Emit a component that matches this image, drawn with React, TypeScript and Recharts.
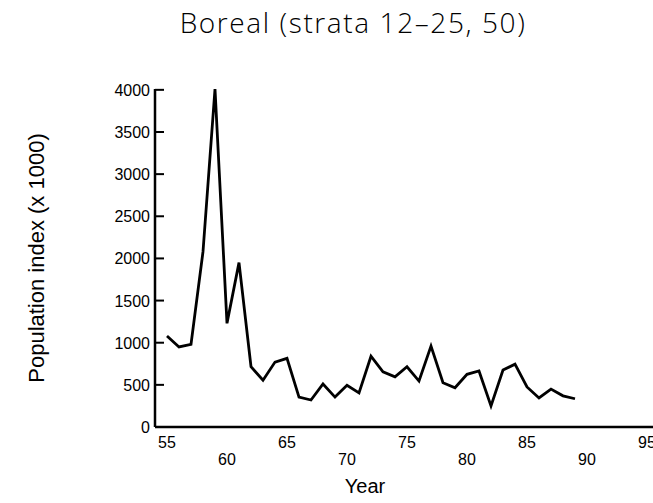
import React from "react";
import { LineChart, Line, XAxis, YAxis, Label } from "recharts";

// survey years (19xx) and population index (x 1000)
const years = [
    55, 56, 57, 58, 59, 60, 61, 62, 63, 64, 65, 66, 67, 68, 69, 70, 71, 72,
    73, 74, 75, 76, 77, 78, 79, 80, 81, 82, 83, 84, 85, 86, 87, 88, 89,
];
const populationIndex = [
    1080, 950, 980, 2080, 4010, 1230, 1950, 715, 555, 770, 815, 355, 320, 510,
    355, 495, 405, 840, 655, 595, 715, 545, 960, 525, 465, 625, 665, 250, 675,
    745, 475, 345, 450, 370, 335,
];
const xTicks = [55, 60, 65, 70, 75, 80, 85, 90, 95];
const yTicks = [0, 500, 1000, 1500, 2000, 2500, 3000, 3500, 4000];

const data = years.map((year, i) => ({ year, value: populationIndex[i] }));

const FONT = "'Liberation Sans', Arial, sans-serif";

function YTick(props: any) {
    const { x, y, payload } = props;
    return (
        <g>
            <line x1={x + 5} y1={y} x2={x + 14} y2={y} stroke="#000" strokeWidth={2} />
            <text x={x} y={y} dy={6} textAnchor="end" fontSize={16} fontFamily={FONT} fill="#000">
                {payload.value}
            </text>
        </g>
    );
}

function XTick(props: any) {
    const { x, y, payload } = props;
    // labels alternate between two rows
    const upper = payload.value % 10 === 5;
    return (
        <text x={x} y={y + (upper ? 21 : 38)} textAnchor="middle" fontSize={16} fontFamily={FONT} fill="#000">
            {payload.value}
        </text>
    );
}

export default function App() {
    return (
        <div style={{ position: "absolute", left: 0, top: 0, width: 653, height: 503, background: "#fff", overflow: "hidden" }}>
            <svg width={653} height={60} style={{ position: "absolute", left: 0, top: 0 }}>
                <text
                    x={353}
                    y={33}
                    textAnchor="middle"
                    fontSize={28}
                    fontWeight={300}
                    letterSpacing={1.6}
                    fontFamily="'Open Sans', 'Liberation Sans', sans-serif"
                    fill="#000"
                >
                    Boreal (strata 12–25, 50)
                </text>
            </svg>
            <LineChart width={653} height={503} data={data} margin={{ top: 89, right: 0, bottom: 46, left: 75 }}>
                <XAxis
                    type="number"
                    dataKey="year"
                    domain={[54, 95.5]}
                    ticks={xTicks}
                    allowDataOverflow
                    height={30}
                    tickLine={false}
                    tickSize={0}
                    tickMargin={0}
                    interval={0}
                    axisLine={{ stroke: "#000", strokeWidth: 2.5 }}
                    tick={<XTick />}
                >
                    <Label
                        content={() => (
                            <text x={365} y={493} textAnchor="middle" fontSize={20} fontFamily={FONT} fill="#000">
                                Year
                            </text>
                        )}
                    />
                </XAxis>
                <YAxis
                    type="number"
                    domain={[0, 4000]}
                    ticks={yTicks}
                    width={80}
                    tickLine={false}
                    tickSize={0}
                    tickMargin={5}
                    interval={0}
                    axisLine={{ stroke: "#000", strokeWidth: 2.5 }}
                    tick={<YTick />}
                >
                    <Label
                        content={() => (
                            <text
                                x={36}
                                y={258}
                                transform="rotate(-90 36 258)"
                                textAnchor="middle"
                                dominantBaseline="central"
                                fontSize={22}
                                fontFamily={FONT}
                                fill="#000"
                            >
                                Population index (x 1000)
                            </text>
                        )}
                    />
                </YAxis>
                <Line
                    type="linear"
                    dataKey="value"
                    stroke="#000"
                    strokeWidth={2.8}
                    dot={false}
                    isAnimationActive={false}
                />
            </LineChart>
        </div>
    );
}
